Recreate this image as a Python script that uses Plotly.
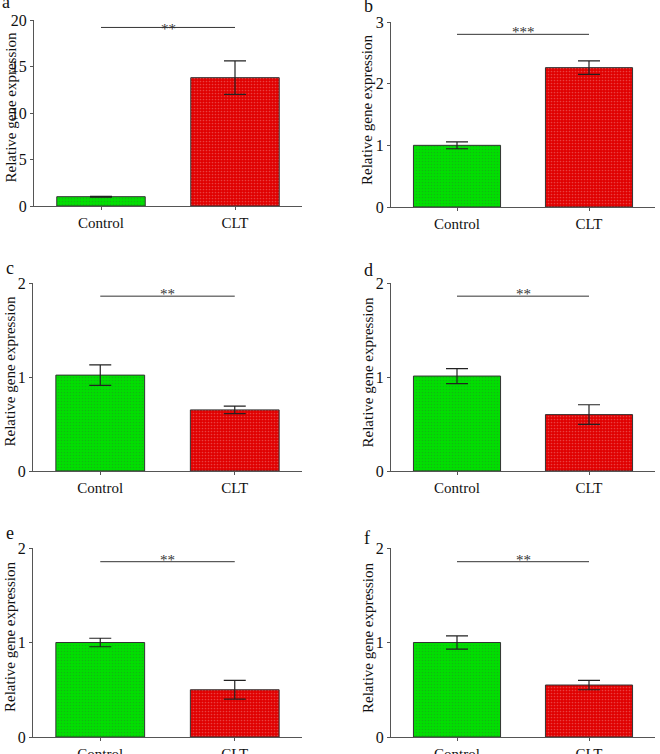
import plotly.graph_objects as go

W, H = 660, 754

categories = ["Control", "CLT"]
panel_labels = ["a", "b", "c", "d", "e", "f"]
means = [
    [1.0, 13.8],
    [1.0, 2.26],
    [1.02, 0.65],
    [1.01, 0.60],
    [1.0, 0.50],
    [1.0, 0.55],
]
errors = [
    [0.05, 1.8],
    [0.055, 0.11],
    [0.11, 0.04],
    [0.08, 0.105],
    [0.045, 0.10],
    [0.07, 0.05],
]
y_max = [20, 3, 2, 2, 2, 2]
y_dtick = [5, 1, 1, 1, 1, 1]
sig_y = [19.2, 2.8, 1.86, 1.86, 1.855, 1.855]
sig_text = ["**", "***", "**", "**", "**", "**"]
y_title = "Relative gene expression"

# pixel boxes (x0, x1, ytop, ybottom)
boxes = [
    (34, 302, 20, 206),
    (391, 655, 22, 207),
    (33, 302, 283, 471),
    (391, 655, 283, 471),
    (33, 302, 548, 737),
    (391, 655, 548, 737),
]
label_pos = [(0, 9), (362, 13), (4, 275), (362, 277), (4, 540), (362, 545)]
star_shift = [-12, -8, -8, -8, -8, -8]

FONT = "Liberation Serif, Times New Roman, serif"
fill_colors = ["#00e000", "#e00000"]
dot_colors = ["#007a00", "#7a0000"]

fig = go.Figure()
layout = dict(
    width=W, height=H, margin=dict(l=0, r=0, t=0, b=0, pad=0, autoexpand=False),
    paper_bgcolor="white", plot_bgcolor="white", showlegend=False,
    font=dict(family=FONT, size=15, color="#111"),
)
annotations = []
shapes = []

for i in range(6):
    ax = "" if i == 0 else str(i + 1)
    x0, x1, yt, yb = boxes[i]
    fig.add_trace(go.Bar(
        x=categories, y=means[i],
        xaxis="x" + ax, yaxis="y" + ax,
        width=0.66,
        marker=dict(
            color=fill_colors,
            line=dict(color="#333333", width=1),
            pattern=dict(shape=".", size=3, solidity=0.25, fgcolor=dot_colors,
                         fgopacity=0.25, fillmode="overlay"),
        ),
        error_y=dict(type="data", array=errors[i], visible=True,
                     color="#222222", thickness=1.2, width=11),
        hoverinfo="skip",
    ))
    layout["xaxis" + ax] = dict(
        domain=[x0 / W, x1 / W], anchor="y" + ax, automargin=False,
        range=[-0.5, 1.5], showline=True, linecolor="#555555", linewidth=1.2,
        ticks="outside", ticklen=3, tickcolor="#555555", showgrid=False,
        zeroline=False, tickfont=dict(size=15, family=FONT, color="#111"),
    )
    layout["yaxis" + ax] = dict(
        domain=[1 - yb / H, 1 - yt / H], anchor="x" + ax, automargin=False,
        range=[0, y_max[i]], dtick=y_dtick[i], tick0=0,
        showline=True, linecolor="#555555", linewidth=1.2,
        ticks="outside", ticklen=3, tickcolor="#555555", showgrid=False,
        zeroline=False, tickfont=dict(size=16, family=FONT, color="#111"),
    )
    # y title
    annotations.append(dict(
        text=y_title, xref="paper", yref="paper",
        x=(x0 - 23.5) / W, y=1 - ((yt + yb) / 2 - 5) / H,
        xanchor="center", yanchor="middle", textangle=-90, showarrow=False,
        font=dict(size=15, family=FONT, color="#111"),
    ))
    # panel label
    lx, lb = label_pos[i]
    annotations.append(dict(
        text=panel_labels[i], xref="paper", yref="paper",
        x=lx / W, y=1 - (lb + 5) / H, xanchor="left", yanchor="bottom",
        showarrow=False, font=dict(size=18, family=FONT, color="#111"),
    ))
    # significance line
    shapes.append(dict(
        type="line", xref="x" + ax, yref="y" + ax,
        x0=0, x1=1, y0=sig_y[i], y1=sig_y[i],
        line=dict(color="#333333", width=1),
    ))
    annotations.append(dict(
        text=sig_text[i], xref="x" + ax, yref="y" + ax,
        x=0.5, y=sig_y[i], xanchor="center", yanchor="bottom", yshift=star_shift[i],
        showarrow=False, font=dict(size=15, family=FONT, color="#333"),
    ))

layout["annotations"] = annotations
layout["shapes"] = shapes
fig.update_layout(**layout)
fig.write_html(
    "out.html",
    config={"displayModeBar": False},
    post_script="document.body.style.margin='0';document.body.style.overflow='hidden';",
)
